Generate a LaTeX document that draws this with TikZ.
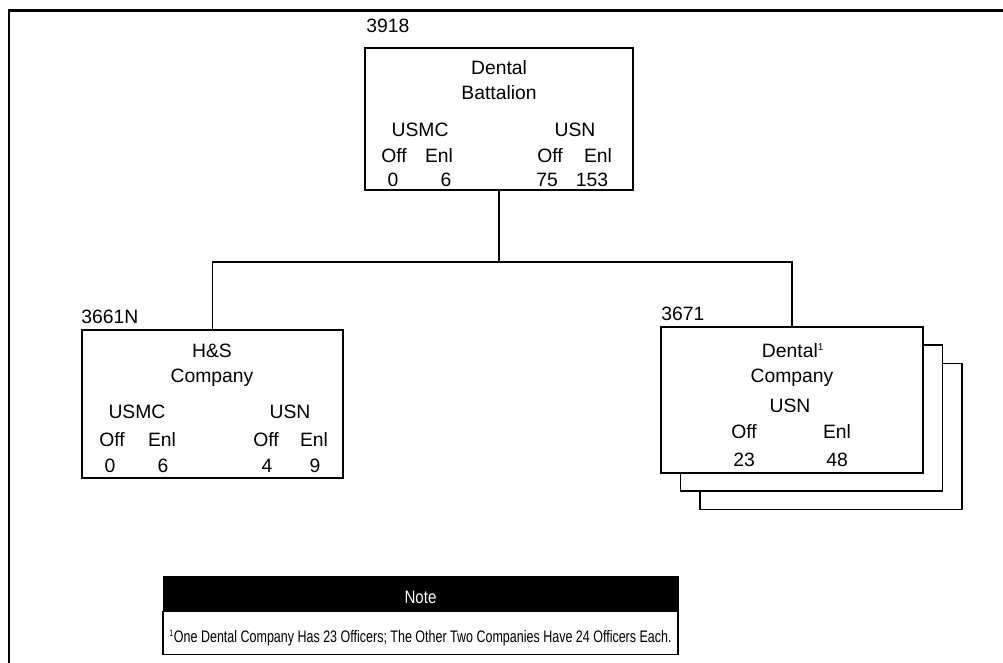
\documentclass[tikz,border=0pt]{standalone}
\usepackage{fontspec}
\setmainfont{Liberation Sans}
\newfontfamily\narrowsans{Liberation Sans}[FakeStretch=0.84]
\newfontfamily\narrowersans{Liberation Sans}[FakeStretch=0.75]
\usetikzlibrary{positioning}

\tikzset{
  unitbox/.style={draw, line width=0.8pt, fill=white, inner sep=0pt},
  lbl/.style={anchor=base, inner sep=0pt, font=\fontsize{14.5}{17}\selectfont},
  uic/.style={anchor=base west, inner sep=0pt, font=\fontsize{14.5}{17}\selectfont},
  frame/.style={line width=2.2pt},
  link/.style={line width=0.8pt}
}

\begin{document}
\begin{tikzpicture}[x=0.75pt,y=-0.75pt]
    \useasboundingbox (0,0) rectangle (1003,663);
    \draw[frame] (1010,10.5) -- (9,10.5) -- (9,670);

    % battalion
    \node[unitbox, minimum width=201pt, minimum height=106.5pt] (bat) at (499,119) {};
    \node[uic] (bat-uic) at (366,33) {3918};
    \node[lbl] (bat-l1) at (499,75) {Dental};
    \node[lbl] (bat-l2) at (499,100) {Battalion};
    \node[lbl] (bat-mc) at (420,137) {USMC};
    \node[lbl] (bat-n) at (575,137) {USN};
    \node[lbl] (bat-mco) at (394,163) {Off};
    \node[lbl] (bat-mce) at (439,163) {Enl};
    \node[lbl] (bat-no) at (550,163) {Off};
    \node[lbl] (bat-ne) at (598,163) {Enl};
    \node[lbl] (bat-mcov) at (393,186) {0};
    \node[lbl] (bat-mcev) at (446,186) {6};
    \node[lbl] (bat-nov) at (547,186) {75};
    \node[lbl] (bat-nev) at (592,186) {153};

    % h&s company
    \node[unitbox, minimum width=195.75pt, minimum height=111pt] (hs) at (212.5,404) {};
    \node[uic] (hs-uic) at (81,323) {3661N};
    \node[lbl] (hs-l1) at (212,357) {H\&S};
    \node[lbl] (hs-l2) at (212,382) {Company};
    \node[lbl] (hs-mc) at (137,418) {USMC};
    \node[lbl] (hs-n) at (290,418) {USN};
    \node[lbl] (hs-mco) at (112,446) {Off};
    \node[lbl] (hs-mce) at (162,446) {Enl};
    \node[lbl] (hs-no) at (266,446) {Off};
    \node[lbl] (hs-ne) at (314,446) {Enl};
    \node[lbl] (hs-mcov) at (110,472) {0};
    \node[lbl] (hs-mcev) at (163,472) {6};
    \node[lbl] (hs-nov) at (267,472) {4};
    \node[lbl] (hs-nev) at (315,472) {9};

    % dental companies
    \node[unitbox, minimum width=196.5pt, minimum height=109.5pt] (dc3) at (831,436.5) {};
    \node[unitbox, minimum width=196.5pt, minimum height=109.5pt] (dc2) at (811.5,418) {};
    \node[unitbox, minimum width=196.5pt, minimum height=109.5pt] (dc) at (792,400) {};
    \node[uic] (dc-uic) at (661,320) {3671};
    \node[lbl] (dc-l1) at (793,357) {Dental\textsuperscript{\fontsize{7.5}{8}\selectfont 1}};
    \node[lbl] (dc-l2) at (792,382) {Company};
    \node[lbl] (dc-n) at (790,412) {USN};
    \node[lbl] (dc-no) at (744,438) {Off};
    \node[lbl] (dc-ne) at (837,438) {Enl};
    \node[lbl] (dc-nov) at (744,466) {23};
    \node[lbl] (dc-nev) at (837,466) {48};

    \coordinate (fork) at (499,262);
    \draw[link] (bat.south) -- (fork);
    \draw[link] (hs.north) |- (fork) -| (dc.north);

    % note
    \node[draw, fill=black, minimum width=386.25pt, minimum height=26.25pt, inner sep=0pt] (note-head) at (420.5,593.5) {};
    \node[lbl, text=white, font=\fontsize{13.5}{16}\selectfont] (note-title) at (420.5,603) {\narrowsans Note};
    \node[draw, line width=0.8pt, minimum width=386.25pt, minimum height=32pt, inner sep=0pt, below=0pt of note-head] (note-body) {};
    \node[lbl, font=\fontsize{12.5}{14}\selectfont] (note-text) at (420.5,642) {\narrowersans\textsuperscript{\fontsize{7}{8}\selectfont 1}One Dental Company Has 23 Officers; The Other Two Companies Have 24 Officers Each.};
\end{tikzpicture}
\end{document}
